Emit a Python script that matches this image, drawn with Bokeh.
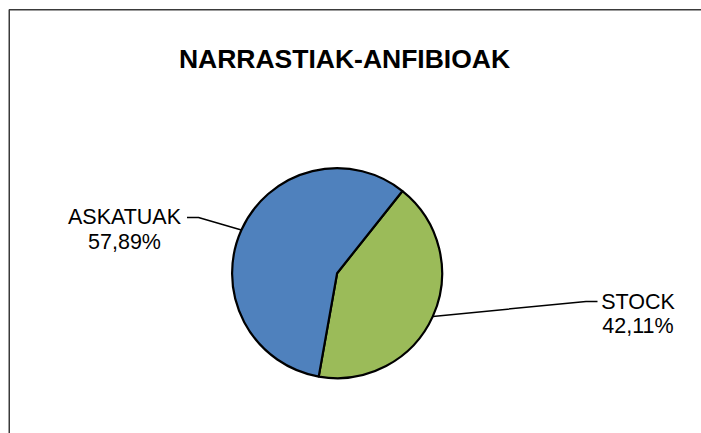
import math
from bokeh.plotting import figure
from bokeh.models import Range1d, Label, ColumnDataSource
from bokeh.embed import file_html
from bokeh.resources import INLINE

# ---- data ----
title_text = "NARRASTIAK-ANFIBIOAK"
categories = ["STOCK", "ASKATUAK"]
values = [42.11, 57.89]
colors = ["#9BBB59", "#4F81BD"]
first_slice_angle = 38.5  # degrees, clockwise from 12 o'clock

# ---- layout ----
W, H = 701, 433
FONT = "Liberation Sans"

def img_xy(x, y):
    # convert pixel coordinates of the reference picture to data coords
    return x, H - y

p = figure(width=W, height=H, output_backend="svg", toolbar_location=None,
           x_range=Range1d(0, W), y_range=Range1d(0, H), min_border=0)
p.axis.visible = False
p.grid.visible = False
p.outline_line_color = None
p.background_fill_color = "white"
p.border_fill_color = "white"

# chart border (left and top edges visible; the rest runs off the picture)
bl, bt = img_xy(8.75, 9.25)
p.line([bl, bl, W + 5], [-5, bt, bt], line_color="#3a3a3a", line_width=1.5)

# title
tx, ty = img_xy(344, 58.5)
p.add_layout(Label(x=tx, y=ty, text=title_text, text_font=FONT, text_font_style="bold",
                   text_font_size="26.5px", text_align="center", text_baseline="alphabetic",
                   text_color="black"))

# pie
cx, cy = img_xy(336.6, 272.7)
r = 105
total = sum(values)
starts, ends, mids = [], [], []
acc = first_slice_angle
for v in values:
    a0 = acc
    a1 = acc + v / total * 360.0
    starts.append(math.radians(90 - a0))
    ends.append(math.radians(90 - a1))
    mids.append((a0 + a1) / 2)
    acc = a1

src = ColumnDataSource(dict(start=starts, end=ends, color=colors, cat=categories, val=values))
p.wedge(x=cx, y=cy, radius=r, start_angle="start", end_angle="end", direction="clock",
        fill_color="color", line_color="black", line_width=2.2, source=src)

# labels with leader lines
label_layout = {
    "STOCK":    dict(elbow=(585.5, 301), end=(597, 301), text=(637.5, 301.7, 325.0)),
    "ASKATUAK": dict(elbow=(198, 217), end=(186.5, 217), text=(124, 216.7, 241.7)),
}
for cat, v, mid in zip(categories, values, mids):
    lay = label_layout[cat]
    ex = cx + r * math.sin(math.radians(mid))
    ey = cy + r * math.cos(math.radians(mid))
    bx, by = img_xy(*lay["elbow"])
    dx, dy = img_xy(*lay["end"])
    p.line([ex, bx, dx], [ey, by, dy], line_color="black", line_width=1.5)
    lx, ly1 = img_xy(lay["text"][0], lay["text"][1])
    _, ly2 = img_xy(lay["text"][0], lay["text"][2])
    pct = f"{v:.2f}".replace(".", ",") + "%"
    for txt, yy in ((cat, ly1), (pct, ly2)):
        p.add_layout(Label(x=lx, y=yy, text=txt, text_font=FONT, text_font_size="21.5px",
                           text_align="center", text_baseline="alphabetic", text_color="black"))

open("out.html", "w").write(file_html(p, INLINE))
